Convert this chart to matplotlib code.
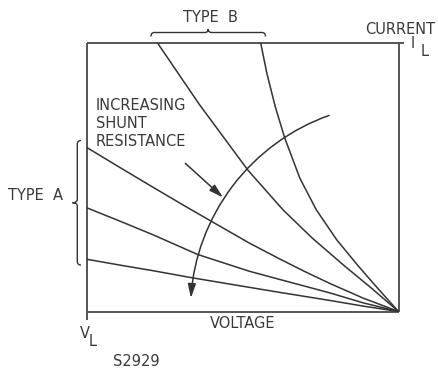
import matplotlib.pyplot as plt
from matplotlib.path import Path
from matplotlib.patches import PathPatch, FancyArrowPatch
from matplotlib.transforms import Affine2D

# I-V curves, voltage 0..1 (V_L axis to open circuit), current 0..1 (top of box)
a1_v = [0.0, 0.103, 0.210, 0.317, 0.398, 0.520, 0.619, 0.700, 0.780, 0.886, 1.0]
a1_i = [0.609, 0.537, 0.463, 0.390, 0.336, 0.255, 0.195, 0.148, 0.104, 0.050, 0.0]
a2_v = [0.0, 0.103, 0.210, 0.355, 0.520, 0.619, 0.780, 0.887, 1.0]
a2_i = [0.385, 0.337, 0.286, 0.212, 0.150, 0.119, 0.069, 0.032, 0.0]
a3_v = [0.0, 0.103, 0.210, 0.339, 0.520, 0.619, 0.780, 0.887, 1.0]
a3_i = [0.194, 0.173, 0.152, 0.125, 0.090, 0.071, 0.041, 0.020, 0.0]
b1_v = [0.225, 0.359, 0.516, 0.629, 0.723, 0.827, 0.914, 1.0]
b1_i = [1.0, 0.772, 0.526, 0.378, 0.273, 0.169, 0.086, 0.0]
b2_v = [0.557, 0.577, 0.604, 0.634, 0.683, 0.736, 0.802, 0.868, 0.935, 1.0]
b2_i = [1.0, 0.886, 0.762, 0.647, 0.496, 0.378, 0.266, 0.173, 0.084, 0.0]

curves = [(a1_v, a1_i), (a2_v, a2_i), (a3_v, a3_i), (b1_v, b1_i), (b2_v, b2_i)]

INK = '#333333'
FRAME = '#555555'
txt = dict(family='DejaVu Sans', fontsize=10.5, color='#3a3a3a')

fig = plt.figure(figsize=(4.38, 3.72), dpi=100)

# plot box (pixel placement of the original drawing)
ax = fig.add_axes([87.3 / 438, 1 - 311.5 / 372, 311.2 / 438, 268.8 / 372])
ax.set_xlim(0, 1)
ax.set_ylim(0, 1)
ax.axis('off')

frame_kw = dict(color=FRAME, lw=1.4, clip_on=False, solid_capstyle='butt')
ax.plot([0, 0], [-0.033, 1], **frame_kw)
ax.plot([0, 1.018], [1, 1], **frame_kw)
ax.plot([1, 1], [0, 1], **frame_kw)
ax.plot([0, 1], [0, 0], **frame_kw)

for v, i in curves:
    ax.plot(v, i, color=INK, lw=1.1, solid_joinstyle='round')

# overlay in pixel units for labels, braces and arrows
deco = fig.add_axes([0, 0, 1, 1])
deco.set_xlim(0, 438)
deco.set_ylim(372, 0)
deco.axis('off')


def brace(ax, a0, a1, base, flat, tip, vertical=False, r=3.5):
    mid = (a0 + a1) / 2
    pts = [(a0, base), (a0, flat), (a0 + r, flat), (mid - r, flat),
           (mid, flat), (mid, tip), (mid, flat), (mid + r, flat),
           (a1 - r, flat), (a1, flat), (a1, base)]
    codes = [Path.MOVETO, Path.CURVE3, Path.CURVE3, Path.LINETO,
             Path.CURVE3, Path.CURVE3, Path.CURVE3, Path.CURVE3,
             Path.LINETO, Path.CURVE3, Path.CURVE3]
    if vertical:
        pts = [(y, x) for x, y in pts]
    ax.add_patch(PathPatch(Path(pts, codes), fill=False, ec=INK, lw=1.0))


brace(deco, 151, 265.5, 36.5, 32.5, 29)
brace(deco, 140.5, 265, 81, 77.3, 72.5, vertical=True)

# "increasing shunt resistance" arc, centred on the open-circuit point
cx, cy, R = 398.5, 311.5, 208
arc = Path.arc(183.7, 250.5).transformed(Affine2D().scale(R).translate(cx, cy))
deco.add_patch(FancyArrowPatch(path=arc, arrowstyle='<|-,head_length=0.7,head_width=0.2',
                               mutation_scale=12, color=INK, lw=1.1))
deco.annotate('', xy=(223, 197.5), xytext=(185.3, 163.3),
              arrowprops=dict(arrowstyle='-|>,head_length=0.7,head_width=0.2',
                              mutation_scale=12, color=INK, lw=1.1,
                              shrinkA=0, shrinkB=0))

deco.text(210, 18, 'TYPE  B', ha='center', va='center', **txt)
deco.text(8, 196, 'TYPE  A', ha='left', va='center', **txt)
deco.text(435, 29, 'CURRENT', ha='right', va='center', **txt)
deco.text(413, 43, 'I', ha='center', va='center', **txt)
deco.text(425, 51, 'L', ha='center', va='center', **txt)
deco.text(96, 123, 'INCREASING\nSHUNT\nRESISTANCE', ha='left', va='center',
          linespacing=1.25, **txt)
deco.text(243, 324, 'VOLTAGE', ha='center', va='center', **txt)
deco.text(85, 334, 'V', ha='center', va='center', **txt)
deco.text(92.5, 342, 'L', ha='center', va='center', **txt)
deco.text(136, 362, 'S2929', ha='center', va='center', **txt)

fig.savefig('out.png', dpi=100)
